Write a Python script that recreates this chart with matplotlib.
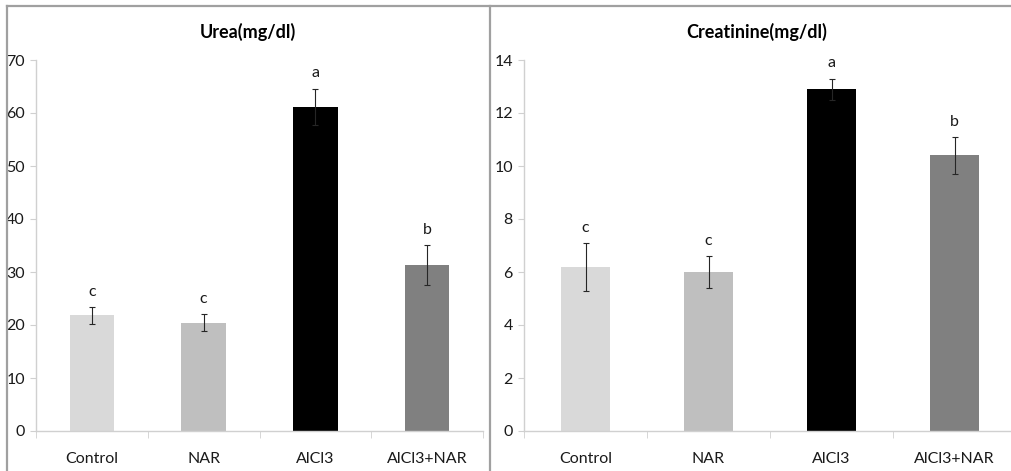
import matplotlib
matplotlib.use('Agg')
import matplotlib.pyplot as plt
import numpy as np
from matplotlib.lines import Line2D
from matplotlib import font_manager

names = {f.name for f in font_manager.fontManager.ttflist}
fam = [n for n in ['Liberation Sans Narrow', 'Lato'] if n in names] + ['DejaVu Sans']
plt.rcParams['font.family'] = fam

# data
groups = ['Control', 'NAR', 'AlCl3', 'AlCl3+NAR']
colors = ['#d9d9d9', '#bfbfbf', '#000000', '#808080']

urea = [21.8, 20.4, 61.2, 31.3]
urea_err = [1.6, 1.6, 3.4, 3.8]
urea_letters = ['c', 'c', 'a', 'b']

creat = [6.2, 6.0, 12.9, 10.4]
creat_err = [0.9, 0.6, 0.4, 0.7]
creat_letters = ['c', 'c', 'a', 'b']

W, H = 1011, 471
fig = plt.figure(figsize=(W / 100, H / 100), dpi=100)


def panel(rect, vals, errs, letters, ymax, step, title, title_x):
    ax = fig.add_axes(rect)
    x = np.arange(len(groups))
    ax.bar(x, vals, width=0.4, color=colors, zorder=2)
    ax.errorbar(x, vals, yerr=errs, fmt='none', ecolor='#262626',
                elinewidth=0.8, capsize=2.5, capthick=0.8, zorder=3)
    for xi, v, e, l in zip(x, vals, errs, letters):
        ax.annotate(l, (xi, v + e), xytext=(0, 6), textcoords='offset points',
                    ha='center', va='bottom', fontsize=11.5, color='#1a1a1a')
    ax.set_xlim(-0.5, len(groups) - 0.5)
    ax.set_ylim(0, ymax)
    ax.set_yticks(np.arange(0, ymax + step / 2, step))
    ax.set_xticks(x)
    ax.set_xticklabels(groups)
    ax.set_xticks(np.arange(-0.5, len(groups), 1.0), minor=True)
    ax.tick_params(axis='x', which='major', length=0, pad=15, labelsize=11.5,
                   labelcolor='#1a1a1a')
    ax.tick_params(axis='x', which='minor', length=5, color='#d0d0d0')
    ax.tick_params(axis='y', length=4, color='#d0d0d0', pad=4, labelsize=11.5,
                   labelcolor='#1a1a1a')
    for s in ['top', 'right']:
        ax.spines[s].set_visible(False)
    for s in ['left', 'bottom']:
        ax.spines[s].set_color('#d0d0d0')
        ax.spines[s].set_linewidth(1.0)
    fig.text(title_x, 1 - 32 / H, title, ha='center', va='center',
             fontsize=13, fontweight='bold')
    return ax


panel([36 / W, 1 - 431 / H, 447 / W, 371 / H], urea, urea_err, urea_letters,
      70, 10, 'Urea(mg/dl)', 248 / W)
panel([524 / W, 1 - 431 / H, 492 / W, 371 / H], creat, creat_err, creat_letters,
      14, 2, 'Creatinine(mg/dl)', 757 / W)

# panel frames
frame = dict(color='#a0a0a0', linewidth=1.6, transform=fig.transFigure)
fig.add_artist(Line2D([7 / W, 1], [1 - 6 / H, 1 - 6 / H], **frame))
fig.add_artist(Line2D([7 / W, 7 / W], [0, 1 - 6 / H], **frame))
fig.add_artist(Line2D([490 / W, 490 / W], [0, 1 - 6 / H], **frame))

fig.savefig('out.png', dpi=100)
